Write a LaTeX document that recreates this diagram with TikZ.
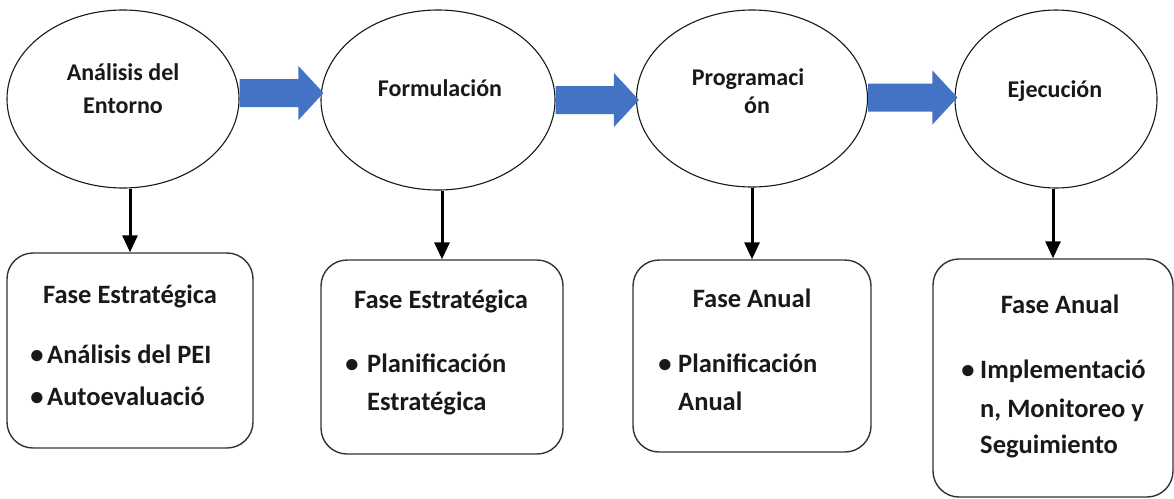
\documentclass[tikz,border=0pt]{standalone}
\usepackage{fontspec}
\setmainfont{Carlito}
\usetikzlibrary{shapes.geometric,arrows.meta,calc}
\definecolor{flowblue}{HTML}{4472C4}
\newcommand\flowarrow[3]{%
  \fill[flowblue] let \p1=(#1.east), \p2=(#2.west) in
    (\x1,\y1+#3pt+14pt) -- (\x2-22pt,\y1+#3pt+14pt) -- (\x2-22pt,\y1+#3pt+27pt)
    -- (\x2+3pt,\y1+#3pt) -- (\x2-22pt,\y1+#3pt-27pt) -- (\x2-22pt,\y1+#3pt-14pt)
    -- (\x1,\y1+#3pt-14pt) -- cycle;}
\begin{document}
\begin{tikzpicture}[x=1pt,y=-1pt,
  phase/.style={draw=black!90, line width=1.1pt, ellipse, inner sep=0pt},
  stagebox/.style={draw=black!80, line width=1.4pt, rounded corners=26pt, inner sep=0pt},
  etext/.style={font=\fontsize{24}{28}\selectfont\bfseries, inner sep=0pt, anchor=base, text=black!90},
  btext/.style={font=\fontsize{26.5}{30}\selectfont\bfseries, inner sep=0pt, anchor=base, text=black!90},
  bltext/.style={btext, anchor=base west},
  downarrow/.style={draw=black, line width=3pt, -{Triangle[length=17pt,width=15pt]}}]
\useasboundingbox (0,0) rectangle (1174,498);
\fill[white] (0,0) rectangle (1174,498);

% ellipses
\node[phase, minimum width=232pt, minimum height=178pt] (e1) at (123,99) {};
\node[phase, minimum width=234pt, minimum height=180pt] (e2) at (438,100) {};
\node[phase, minimum width=231pt, minimum height=177pt] (e3) at (752,98.5) {};
\node[phase, minimum width=202pt, minimum height=178pt] (e4) at (1056,99) {};

\node[etext] (t1a) at (123,80) {Análisis del};
\node[etext] (t1b) at (123,113) {Entorno};
\node[etext] (t2) at (440,96) {Formulación};
\node[etext] (t3a) at (748,85) {Programaci};
\node[etext] (t3b) at (757,113) {ón};
\node[etext] (t4) at (1055,97) {Ejecución};

% blue arrows
\flowarrow{e1}{e2}{6}
\flowarrow{e2}{e3}{0}
\flowarrow{e3}{e4}{1}

% boxes
\node[stagebox, minimum width=246pt, minimum height=195pt] (b1) at (130,350.5) {};
\node[stagebox, minimum width=242pt, minimum height=194pt] (b2) at (442,357) {};
\node[stagebox, minimum width=238pt, minimum height=192pt] (b3) at (752,356) {};
\node[stagebox, minimum width=240pt, minimum height=238pt] (b4) at (1053,378) {};

% down arrows
\draw[downarrow] (b1.north |- e1.south) -- (b1.north);
\draw[downarrow] (b2.north |- e2.south) -- (b2.north);
\draw[downarrow] (b3.north |- e3.south) -- (b3.north);
\draw[downarrow] (b4.north |- e4.south) -- (b4.north);

% box 1
\node[btext] (h1) at (130,303) {Fase Estratégica};
\node[btext] (d1a) at (37,363) {•};
\node[bltext] (l1a) at (47,363) {Análisis del PEI};
\node[btext] (d1b) at (37,405) {•};
\node[bltext] (l1b) at (47,405) {Autoevaluació};

% box 2
\node[btext] (h2) at (441,308) {Fase Estratégica};
\node[btext] (d2) at (352,372) {•};
\node[bltext] (l2a) at (367,372) {Planificación};
\node[bltext] (l2b) at (367,410) {Estratégica};

% box 3
\node[btext] (h3) at (752,307) {Fase Anual};
\node[btext] (d3) at (665,372) {•};
\node[bltext] (l3a) at (678,372) {Planificación};
\node[bltext] (l3b) at (678,410) {Anual};

% box 4
\node[btext] (h4) at (1060,313) {Fase Anual};
\node[btext] (d4) at (968,378) {•};
\node[bltext] (l4a) at (980,378) {Implementació};
\node[bltext] (l4b) at (980,417) {n, Monitoreo y};
\node[bltext] (l4c) at (980,453) {Seguimiento};
\end{tikzpicture}
\end{document}
